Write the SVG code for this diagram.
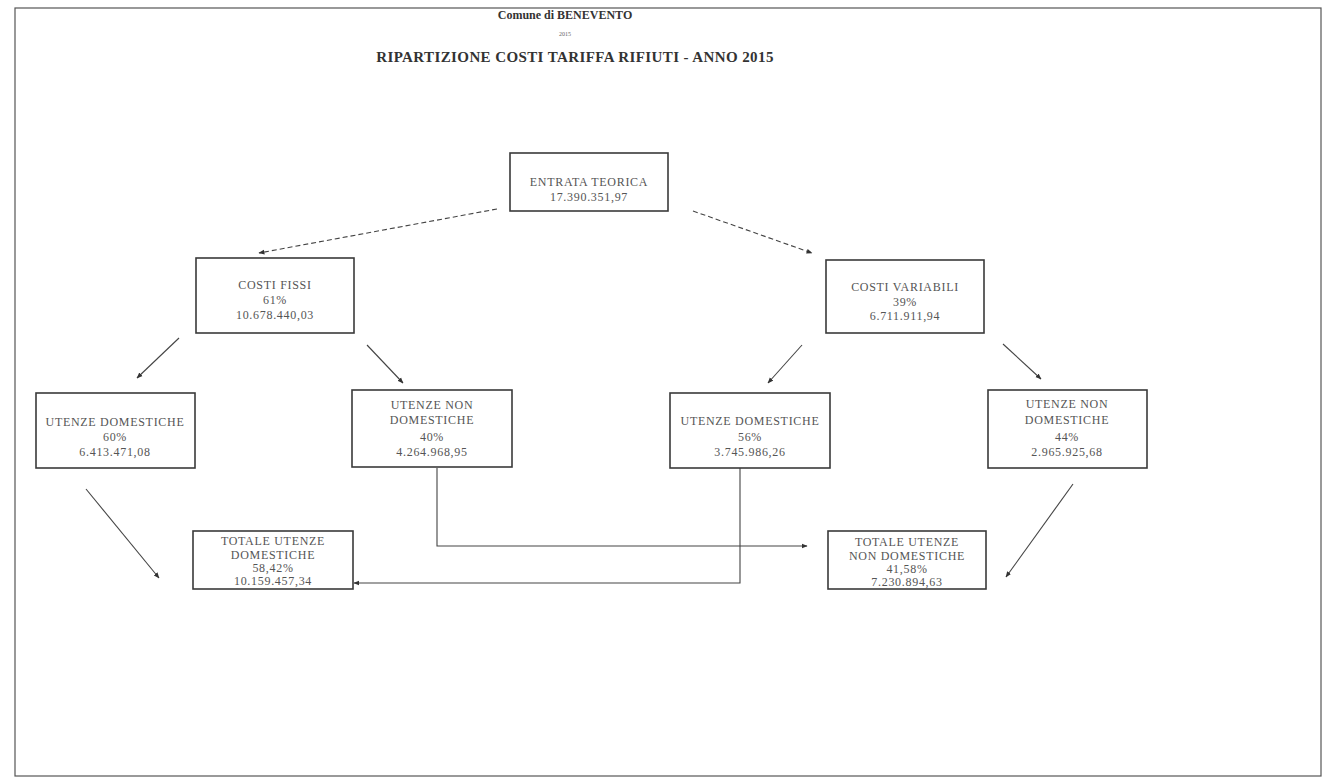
<svg xmlns="http://www.w3.org/2000/svg" width="1335" height="779" viewBox="0 0 1335 779">
<defs>
<marker id="ah" viewBox="0 0 10 10" refX="9" refY="5" markerWidth="6" markerHeight="6" orient="auto" markerUnits="userSpaceOnUse">
<path d="M0,1 L10,5 L0,9 Z" fill="#333"/>
</marker>
<style>
.box{fill:#fff;stroke:#3a3a3a;stroke-width:1.6}
.t{font-family:"Liberation Serif","Times New Roman",serif;font-size:12px;letter-spacing:0.7px;fill:#555;text-anchor:middle}
.ttl{font-family:"Liberation Serif","Times New Roman",serif;font-weight:bold;fill:#333;text-anchor:middle}
.c{fill:none;stroke:#444;stroke-width:1.1}
.d{stroke-dasharray:5,3}
</style>
</defs>
<rect x="0" y="0" width="1335" height="779" fill="#fff"/>
<rect x="15" y="8" width="1306" height="768" fill="none" stroke="#555" stroke-width="1.2"/>
<g id="title">
<text class="ttl" x="565" y="19" font-size="12">Comune di BENEVENTO</text>
<text x="565" y="36" font-family="Liberation Serif, serif" font-size="6" fill="#666" text-anchor="middle">2015</text>
<text class="ttl" x="575" y="62" font-size="15" letter-spacing="0.4">RIPARTIZIONE COSTI TARIFFA RIFIUTI - ANNO 2015</text>
</g>
<g id="connectors">
<line class="c d" x1="497" y1="209" x2="259" y2="253" marker-end="url(#ah)"/>
<line class="c d" x1="693" y1="211" x2="812" y2="253" marker-end="url(#ah)"/>
<line class="c" x1="179" y1="338" x2="137" y2="378" marker-end="url(#ah)"/>
<line class="c" x1="367" y1="345" x2="403" y2="383" marker-end="url(#ah)"/>
<line class="c" x1="802" y1="345" x2="768" y2="383" marker-end="url(#ah)"/>
<line class="c" x1="1003" y1="344" x2="1041" y2="379" marker-end="url(#ah)"/>
<line class="c" x1="86" y1="489" x2="159" y2="578" marker-end="url(#ah)"/>
<polyline class="c" points="437,468 437,546 807,546" marker-end="url(#ah)"/>
<polyline class="c" points="740,468 740,583 354,583" marker-end="url(#ah)"/>
<line class="c" x1="1073" y1="484" x2="1006" y2="577" marker-end="url(#ah)"/>
</g>
<g id="entrata">
<rect class="box" x="510" y="153" width="158" height="58"/>
<text class="t" x="589" y="186">ENTRATA TEORICA</text>
<text class="t" x="589" y="201">17.390.351,97</text>
</g>
<g id="costi-fissi">
<rect class="box" x="196" y="258" width="158" height="75"/>
<text class="t" x="275" y="289">COSTI FISSI</text>
<text class="t" x="275" y="304">61%</text>
<text class="t" x="275" y="319">10.678.440,03</text>
</g>
<g id="costi-variabili">
<rect class="box" x="826" y="260" width="158" height="73"/>
<text class="t" x="905" y="291">COSTI VARIABILI</text>
<text class="t" x="905" y="306">39%</text>
<text class="t" x="905" y="320">6.711.911,94</text>
</g>
<g id="ud-fissi">
<rect class="box" x="36" y="393" width="159" height="75"/>
<text class="t" x="115" y="426">UTENZE DOMESTICHE</text>
<text class="t" x="115" y="441">60%</text>
<text class="t" x="115" y="456">6.413.471,08</text>
</g>
<g id="und-fissi">
<rect class="box" x="352" y="390" width="160" height="77"/>
<text class="t" x="432" y="409">UTENZE NON</text>
<text class="t" x="432" y="424">DOMESTICHE</text>
<text class="t" x="432" y="441">40%</text>
<text class="t" x="432" y="456">4.264.968,95</text>
</g>
<g id="ud-variabili">
<rect class="box" x="670" y="393" width="160" height="75"/>
<text class="t" x="750" y="425">UTENZE DOMESTICHE</text>
<text class="t" x="750" y="441">56%</text>
<text class="t" x="750" y="456">3.745.986,26</text>
</g>
<g id="und-variabili">
<rect class="box" x="988" y="390" width="159" height="78"/>
<text class="t" x="1067" y="408">UTENZE NON</text>
<text class="t" x="1067" y="424">DOMESTICHE</text>
<text class="t" x="1067" y="441">44%</text>
<text class="t" x="1067" y="456">2.965.925,68</text>
</g>
<g id="totale-ud">
<rect class="box" x="193" y="531" width="160" height="58"/>
<text class="t" x="273" y="545">TOTALE UTENZE</text>
<text class="t" x="273" y="559">DOMESTICHE</text>
<text class="t" x="273" y="572">58,42%</text>
<text class="t" x="273" y="585">10.159.457,34</text>
</g>
<g id="totale-und">
<rect class="box" x="828" y="531" width="158" height="58"/>
<text class="t" x="907" y="546">TOTALE UTENZE</text>
<text class="t" x="907" y="560">NON DOMESTICHE</text>
<text class="t" x="907" y="573">41,58%</text>
<text class="t" x="907" y="586">7.230.894,63</text>
</g>
</svg>
